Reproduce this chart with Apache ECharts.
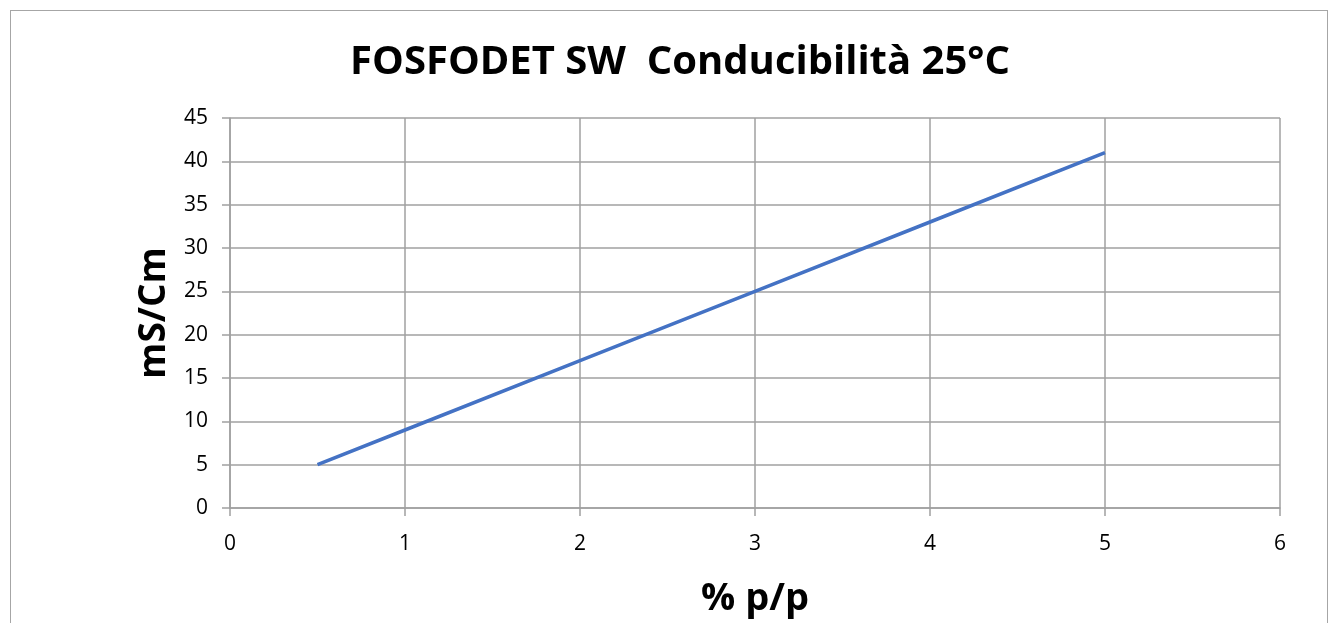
<!DOCTYPE html>
<html>
<head>
<meta charset="utf-8">
<script src="https://cdn.jsdelivr.net/npm/echarts@6/dist/echarts.min.js"></script>
<style>
  html, body { margin: 0; padding: 0; background: #fff; }
  #frame { position: absolute; left: 10px; top: 10px; width: 1318px; height: 640px; border: 1px solid #a6a6a6; box-sizing: border-box; }
  #chart { position: absolute; left: 0; top: 0; width: 1338px; height: 623px; }
</style>
</head>
<body>
<div id="frame"></div>
<div id="chart"></div>
<script>
// dati
var concentrazione = [0.5, 1, 2, 3, 4, 5];
var conducibilita = [5, 9, 17, 25, 33, 41];

var FONT = "'Open Sans', 'Noto Sans', sans-serif";

var punti = concentrazione.map(function (x, i) {
  return [x, conducibilita[i]];
});

var myEchart = echarts.init(document.getElementById("chart"), null, { renderer: "canvas" });
myEchart.setOption({
  backgroundColor: "transparent",
  animation: false,
  title: {
    text: "FOSFODET SW  Conducibilità 25°C",
    left: 675,
    top: 38,
    textAlign: "center",
    textStyle: { fontFamily: FONT, fontSize: 40, fontWeight: "bold", color: "#000" }
  },
  grid: { left: 230, right: 58, top: 118, bottom: 113 },
  xAxis: {
    type: "value",
    min: 0,
    max: 6,
    interval: 1,
    name: "% p/p",
    nameLocation: "middle",
    nameGap: 72,
    nameTextStyle: { fontFamily: FONT, fontSize: 38, fontWeight: "bold", color: "#000" },
    axisLine: { show: true, lineStyle: { color: "#a0a0a0", width: 1.5 } },
    axisTick: { show: true, length: 8, lineStyle: { color: "#a0a0a0", width: 1.5 } },
    axisLabel: { fontFamily: FONT, fontSize: 21, color: "#000", margin: 26 },
    splitLine: { show: true, lineStyle: { color: "#a0a0a0", width: 1.5 } }
  },
  yAxis: {
    type: "value",
    min: 0,
    max: 45,
    interval: 5,
    name: "mS/Cm",
    nameLocation: "middle",
    nameGap: 55,
    nameTextStyle: { fontFamily: FONT, fontSize: 37, fontWeight: "bold", color: "#000" },
    axisLine: { show: true, lineStyle: { color: "#a0a0a0", width: 1.5 } },
    axisTick: { show: true, length: 8, lineStyle: { color: "#a0a0a0", width: 1.5 } },
    axisLabel: { fontFamily: FONT, fontSize: 21, color: "#000", margin: 22 },
    splitLine: { show: true, lineStyle: { color: "#a0a0a0", width: 1.5 } }
  },
  series: [{
    type: "line",
    data: punti,
    showSymbol: false,
    lineStyle: { color: "#4472c4", width: 3.5 }
  }]
});
</script>
</body>
</html>
